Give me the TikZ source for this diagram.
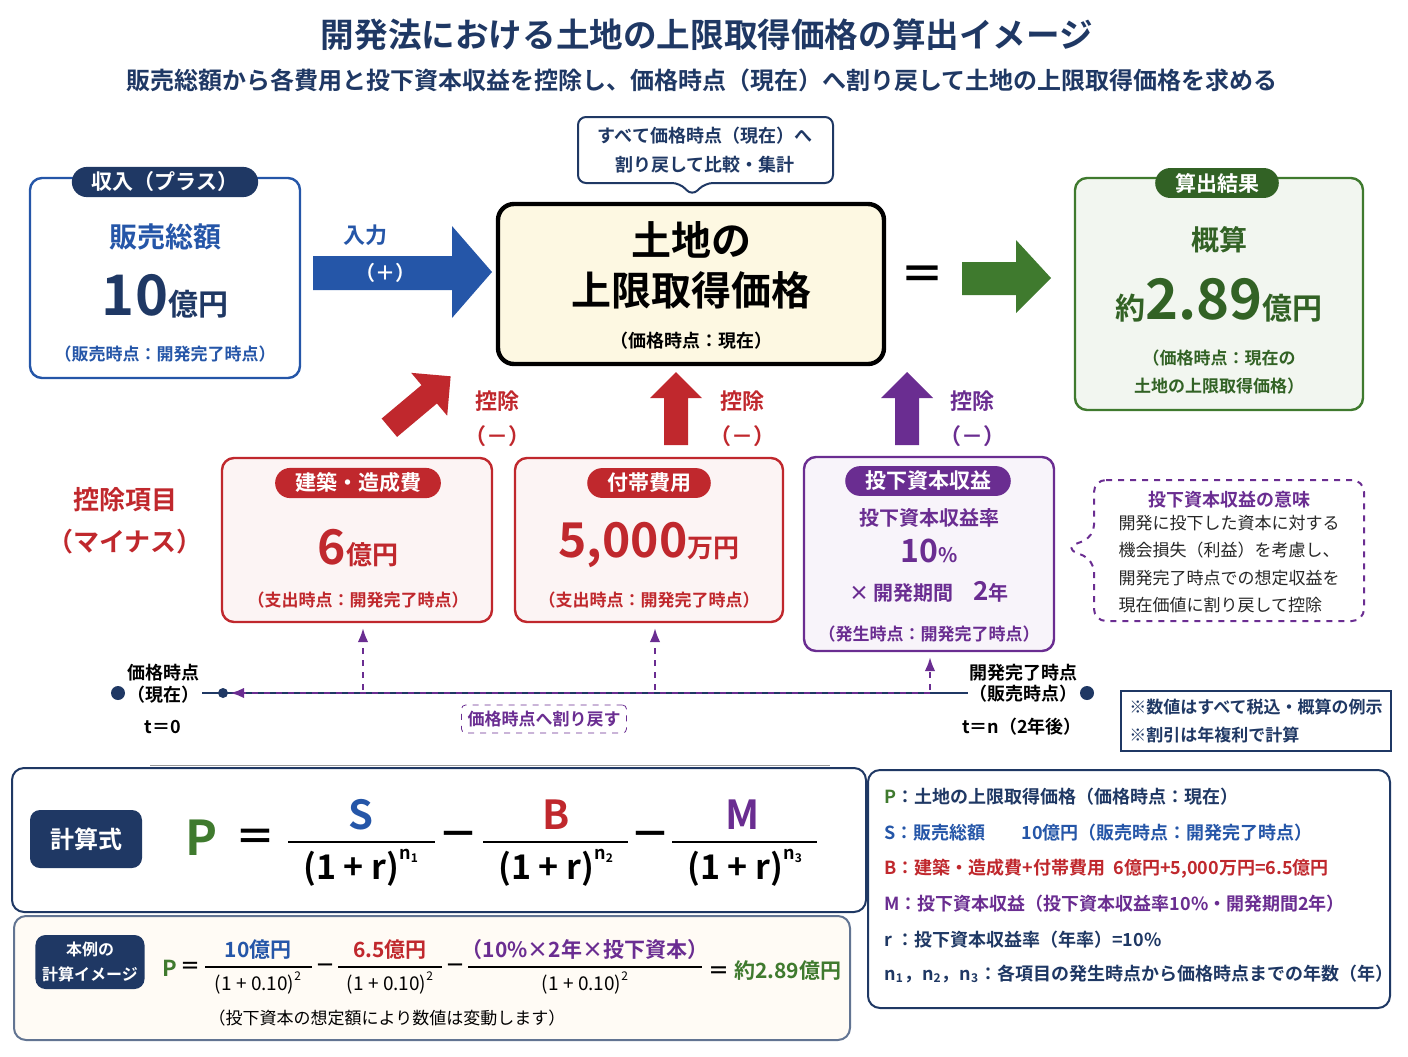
\documentclass[tikz,border=0pt]{standalone}
\usepackage{fontspec}
\setmainfont{Noto Sans CJK JP}[BoldFont={* Bold}]
\usetikzlibrary{arrows.meta,shapes.misc}
\definecolor{navy}{HTML}{1F3864}
\definecolor{cblue}{HTML}{2556A8}
\definecolor{cred}{HTML}{C0282D}
\definecolor{cpur}{HTML}{6A2D91}
\definecolor{cgreen}{HTML}{3F7A2E}
\definecolor{cream}{HTML}{FDF8E2}
\newcommand\fs[1]{\fontsize{#1}{#1}\selectfont}
\newcommand\fsl[1]{\fontsize{#1}{1.6\dimexpr#1pt\relax}\selectfont}
\newcommand\mysup[1]{\raisebox{1.1ex}{\fs{9}#1}}
\begin{document}
\begin{tikzpicture}[x=0.5pt,y=-0.5pt,font=\bfseries,
  box/.style={draw,line width=1.2pt,rounded corners=6pt},
  tab/.style={rounded rectangle,fill=#1,text=white,inner xsep=8pt,inner ysep=2.5pt,font=\bfseries\fs{10.5}},
  blk/.style={fill=navy,rounded corners=5pt,text=white,align=center},
  lab/.style={align=center,inner sep=1pt}]
\useasboundingbox (0,0) rectangle (1408,1056);
% title
\node[text=navy,font=\bfseries\fs{16.8}] (title) at (707,35) {開発法における土地の上限取得価格の算出イメージ};
\node[text=navy,font=\bfseries\fs{12}] (sub) at (702,80) {販売総額から各費用と投下資本収益を控除し、価格時点（現在）へ割り戻して土地の上限取得価格を求める};
% callout
\draw[navy,line width=1pt,fill=white,rounded corners=4pt] (578,117) -- (833,117) -- (833,183) -- (705,183) -- (692,196) -- (680,183) -- (578,183) -- cycle;
\node[lab,text=navy,font=\bfseries\fsl{9}] (call) at (705,150) {すべて価格時点（現在）へ\\割り戻して比較・集計};
% left box
\node[box,draw=cblue,fill=white,minimum width=135pt,minimum height=100pt] (inc) at (165,278) {};
\node[tab=navy] (inctab) at (165,182) {収入（プラス）};
\node[text=cblue,font=\bfseries\fs{14}] (sales) at (165,237) {販売総額};
\node[text=navy] (ten) at (165,296) {\fs{28}10\fs{15}億円};
\node[text=cblue,font=\bfseries\fs{8.5}] (inct) at (165,354) {（販売時点：開発完了時点）};
% blue arrow
\fill[cblue] (313,256) -- (452,256) -- (452,226) -- (492,272) -- (452,318) -- (452,290) -- (313,290) -- cycle;
\node[text=cblue,font=\bfseries\fs{11}] (inlab) at (365,235) {入力};
\node[text=white,font=\bfseries\fs{10}] (inplus) at (385,273) {（＋）};
% center
\node[box,draw=black,line width=2.2pt,fill=cream,minimum width=193pt,minimum height=80pt,rounded corners=8pt] (land) at (691,284) {};
\node[font=\bfseries\fs{20}] (landt1) at (691,240) {土地の};
\node[font=\bfseries\fs{20}] (landt2) at (691,290) {上限取得価格};
\node[font=\bfseries\fs{9}] (landtime) at (691,341) {（価格時点：現在）};
\node[font=\bfseries\fs{22}] (eq) at (922,278) {＝};
\fill[cgreen] (962,262) -- (1016,262) -- (1016,240) -- (1051,278) -- (1016,313) -- (1016,295) -- (962,295) -- cycle;
% right box
\node[box,draw=cgreen,fill=cgreen!7,minimum width=144pt,minimum height=116pt] (res) at (1219,294) {};
\node[tab=cgreen!80!black] (restab) at (1217,183) {算出結果};
\node[text=cgreen!80!black,font=\bfseries\fs{14}] (gai) at (1219,240) {概算};
\node[text=cgreen!80!black] (val) at (1219,300) {\fs{15}約\fs{28}2.89\fs{15}億円};
\node[lab,text=cgreen!80!black,font=\bfseries\fsl{8.5}] (rest) at (1219,372) {（価格時点：現在の\\土地の上限取得価格）};
% deduction arrows
\fill[cred,rotate around={40:(420,402)}] (380,390) -- (432,390) -- (432,374) -- (460,402) -- (432,430) -- (432,414) -- (380,414) -- cycle;
\fill[cred] (664,445) -- (664,398) -- (650,398) -- (676,372) -- (702,398) -- (688,398) -- (688,445) -- cycle;
\fill[cpur] (895,445) -- (895,398) -- (881,398) -- (907,372) -- (933,398) -- (919,398) -- (919,445) -- cycle;
\foreach \x/\c/\n in {497/cred/a,742/cred/b,972/cpur/c}{
  \node[lab,text=\c,font=\bfseries\fsl{11}] (ded\n) at (\x,419) {控除\\（－）};}
\node[lab,text=cred,font=\bfseries\fsl{13}] (kou) at (125,521) {控除項目\\（マイナス）};
% red boxes
\node[box,draw=cred,fill=cred!5,minimum width=135pt,minimum height=82pt] (b1) at (357,540) {};
\node[tab=cred] (b1t) at (358,483) {建築・造成費};
\node[text=cred] (b1v) at (358,548) {\fs{24}6\fs{13}億円};
\node[text=cred,font=\bfseries\fs{8.5}] (b1s) at (358,600) {（支出時点：開発完了時点）};
\node[box,draw=cred,fill=cred!5,minimum width=134pt,minimum height=82pt] (b2) at (649,540) {};
\node[tab=cred] (b2t) at (649,483) {付帯費用};
\node[text=cred] (b2v) at (649,545) {\fs{24}5,000\fs{13}万円};
\node[text=cred,font=\bfseries\fs{8.5}] (b2s) at (649,600) {（支出時点：開発完了時点）};
% purple box
\node[box,draw=cpur,fill=cpur!5,minimum width=125pt,minimum height=97pt] (b3) at (929,554) {};
\node[tab=cpur] (b3t) at (928,481) {投下資本収益};
\node[text=cpur,font=\bfseries\fs{10}] (b3a) at (929,518) {投下資本収益率};
\node[text=cpur] (b3b) at (929,551) {\fs{16}10\fs{10}\%};
\node[text=cpur] (b3c) at (929,592) {\fs{10}× 開発期間\quad\fs{13}2\fs{10}年};
\node[text=cpur,font=\bfseries\fs{8.5}] (b3s) at (929,634) {（発生時点：開発完了時点）};
% meaning box
\draw[cpur,dashed,line width=1pt,rounded corners=6pt] (1094,480) -- (1364,480) -- (1364,621) -- (1094,621) -- (1094,560) -- (1065,548) -- (1094,537) -- cycle;
\node[text=cpur,font=\bfseries\fs{9}] (mt) at (1229,500) {投下資本収益の意味};
\node[lab,align=left,font=\mdseries\fsl{8.5},text=black!85] (mb) at (1229,564) {開発に投下した資本に対する\\機会損失（利益）を考慮し、\\開発完了時点での想定収益を\\現在価値に割り戻して控除};
% timeline
\coordinate (tl) at (202,693); \coordinate (tr) at (968,693);
\draw[navy,line width=1.4pt] (tl) -- (tr);
\draw[cpur,dashed,line width=1.4pt,-{Latex[length=7pt]}] (930,693) -- (230,693);
\fill[navy] (118,693) circle (7); \fill[navy] (223,693) circle (5); \fill[navy] (1087,693) circle (7);
\foreach \x/\y in {363/628,655/628,930/657}{
  \draw[cpur,dashed,line width=1.2pt,-{Latex[length=7pt]}] (\x,690) -- (\x,\y);}
\node[font=\bfseries\fs{9}] (t0) at (163,673) {価格時点};
\node[font=\bfseries\fs{9}] (t0a) at (163,695) {（現在）};
\node[font=\bfseries\fs{9}] (t0b) at (163,727) {t＝0};
\node[font=\bfseries\fs{9}] (tn) at (1023,673) {開発完了時点};
\node[font=\bfseries\fs{9}] (tna) at (1023,694) {（販売時点）};
\node[font=\bfseries\fs{9}] (tnb) at (1022,727) {t＝n（2年後）};
\node[draw=cpur,dashed,fill=white,text=cpur,rounded corners=2pt,font=\bfseries\fs{8.5},inner sep=3pt] (wari) at (544,719) {価格時点へ割り戻す};
\node[draw=navy,line width=1pt,lab,align=left,text=navy,font=\bfseries\fsl{8.5},minimum width=133pt,minimum height=28pt,inner sep=4pt] (note) at (1256,721) {※数値はすべて税込・概算の例示\\※割引は年複利で計算};
\draw[black!40] (150,765) -- (830,765);
% formula box
\node[box,draw=navy,line width=1pt,fill=white,minimum width=427pt,minimum height=72pt] (fb) at (439,840) {};
\node[blk,minimum width=56pt,minimum height=29pt,font=\bfseries\fs{12}] (kei) at (86,839) {計算式};
\node[text=cgreen,font=\bfseries\fs{24}] (P) at (202,838) {P};
\node[font=\bfseries\fs{20}] (eq2) at (255,840) {＝};
\draw[line width=1.4pt] (288,842) -- (435,842) (483,842) -- (628,842) (672,842) -- (817,842);
\node[text=cblue,font=\bfseries\fs{20}] (S) at (361,815) {S};
\node[text=cred,font=\bfseries\fs{20}] (B) at (556,815) {B};
\node[text=cpur,font=\bfseries\fs{20}] (M) at (743,815) {M};
\node[font=\bfseries\fs{17}] (d1) at (361,868) {(1 + r)\mysup{n\textsubscript{1}}};
\node[font=\bfseries\fs{17}] (d2) at (556,868) {(1 + r)\mysup{n\textsubscript{2}}};
\node[font=\bfseries\fs{17}] (d3) at (745,868) {(1 + r)\mysup{n\textsubscript{3}}};
\node[font=\bfseries\fs{20}] (m1) at (458,840) {－};
\node[font=\bfseries\fs{20}] (m2) at (650,840) {－};
% example box
\node[box,draw=navy!70,line width=1pt,fill=cream!70!orange!10,minimum width=418pt,minimum height=62pt] (eb) at (432,978) {};
\node[blk,minimum width=54pt,minimum height=27pt,font=\bfseries\fsl{8}] (rei) at (90,962) {本例の\\計算イメージ};
\node[text=cgreen,font=\bfseries\fs{11}] (P2) at (170,968) {P};
\node[font=\bfseries\fs{10}] (eq3) at (190,968) {＝};
\draw[line width=0.6pt] (205,967) -- (312,967) (338,967) -- (442,967) (468,967) -- (702,967);
\node[text=cblue,font=\bfseries\fs{10.5}] (n1) at (258,950) {10億円};
\node[text=cred,font=\bfseries\fs{10.5}] (n2) at (390,950) {6.5億円};
\node[text=cpur,font=\bfseries\fs{10.5}] (n3) at (585,950) {（10\%×2年×投下資本）};
\foreach \x/\n in {258/a,390/b,585/c}{\node[font=\mdseries\fs{9.5}] (e\n) at (\x,983) {(1 + 0.10)\raisebox{0.9ex}{\fs{6}2}};}
\node[font=\bfseries\fs{10}] (em1) at (325,968) {－};
\node[font=\bfseries\fs{10}] (em2) at (455,968) {－};
\node[text=cgreen,font=\bfseries\fs{10.5}] (ans) at (775,971) {\textcolor{black}{＝} 約2.89億円};
\node[font=\mdseries\fs{8.5}] (enote) at (387,1018) {（投下資本の想定額により数値は変動します）};
% legend
\node[box,draw=navy,line width=1pt,fill=white,minimum width=261pt,minimum height=119pt] (leg) at (1129,889) {};
\begin{scope}[every node/.style={anchor=west,font=\bfseries\fs{9},inner sep=0pt}]
\node (l1) at (884,797) {\textcolor{cgreen}{P}\textcolor{navy}{：土地の上限取得価格（価格時点：現在）}};
\node[text=cblue] (l2) at (884,833) {S：販売総額\qquad 10億円（販売時点：開発完了時点）};
\node[text=cred] (l3) at (884,869) {B：建築・造成費+付帯費用\ \ 6億円+5,000万円=6.5億円};
\node[text=cpur] (l4) at (884,904) {M：投下資本収益（投下資本収益率10\%・開発期間2年）};
\node[text=navy] (l5) at (884,940) {r ：投下資本収益率（年率）=10\%};
\node[text=navy] (l6) at (884,974) {n\textsubscript{1}，n\textsubscript{2}，n\textsubscript{3}：各項目の発生時点から価格時点までの年数（年）};
\end{scope}
\end{tikzpicture}
\end{document}
